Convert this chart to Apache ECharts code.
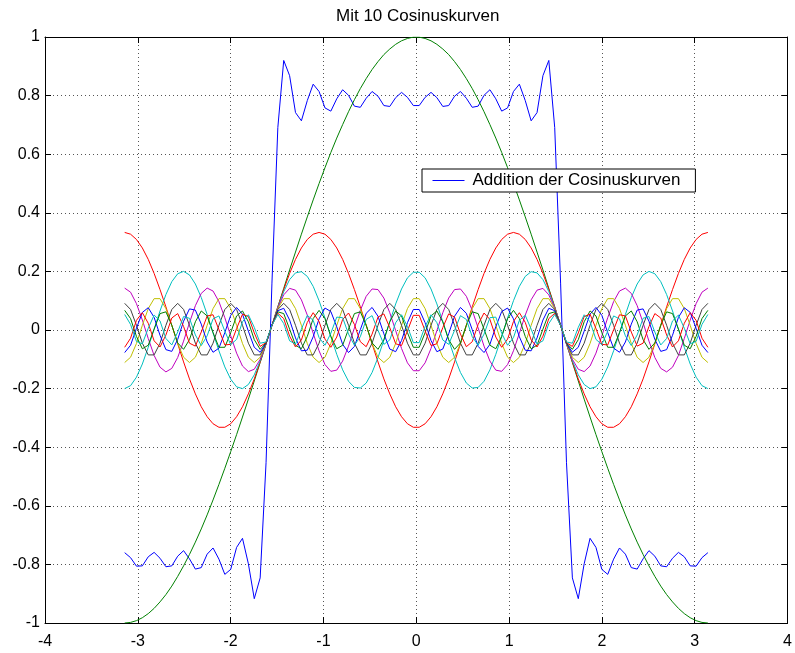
<!DOCTYPE html>
<html>
<head>
<meta charset="utf-8">
<script src="https://cdn.jsdelivr.net/npm/echarts@6/dist/echarts.min.js"></script>
<style>
html,body{margin:0;padding:0;background:#fff;}
#chart{width:795px;height:653px;}
</style>
</head>
<body>
<div id="chart"></div>
<script>
// sample positions (x in radians)
const xs = [-3.1416,-3.0781,-3.0147,-2.9512,-2.8877,-2.8243,-2.7608,-2.6973,-2.6339,-2.5704,-2.5069,-2.4435,-2.3800,-2.3165,-2.2531,-2.1896,-2.1261,-2.0627,-1.9992,-1.9358,-1.8723,-1.8088,-1.7454,-1.6819,-1.6184,-1.5550,-1.4915,-1.4280,-1.3646,-1.3011,-1.2376,-1.1742,-1.1107,-1.0472,-0.9837,-0.9203,-0.8568,-0.7933,-0.7299,-0.6664,-0.6029,-0.5395,-0.4760,-0.4125,-0.3491,-0.2856,-0.2221,-0.1587,-0.0952,-0.0317,
0.0317,0.0952,0.1587,0.2221,0.2856,0.3491,0.4125,0.4760,0.5395,0.6029,0.6664,0.7299,0.7933,0.8568,0.9203,0.9837,1.0472,1.1107,1.1742,1.2376,1.3011,1.3646,1.4280,1.4915,1.5550,1.6184,1.6819,1.7454,1.8088,1.8723,1.9358,1.9992,2.0627,2.1261,2.1896,2.2531,2.3165,2.3800,2.4435,2.5069,2.5704,2.6339,2.6973,2.7608,2.8243,2.8877,2.9512,3.0147,3.0781,3.1416];

// Addition der Cosinuskurven (sum)
const sumCurve = [-0.760,-0.777,-0.806,-0.805,-0.774,-0.759,-0.779,-0.808,-0.805,-0.772,-0.753,-0.781,-0.816,-0.811,-0.765,-0.744,-0.782,-0.834,-0.817,-0.742,-0.711,-0.798,-0.917,-0.846,-0.453,0.160,0.691,0.920,0.868,0.742,0.714,0.783,0.839,0.814,0.758,0.747,0.789,0.820,0.801,0.764,0.760,0.791,0.814,0.798,0.766,0.763,0.793,0.811,0.794,0.766,
0.766,0.794,0.811,0.793,0.763,0.766,0.798,0.814,0.791,0.760,0.764,0.801,0.820,0.789,0.747,0.758,0.814,0.839,0.783,0.714,0.742,0.868,0.920,0.691,0.160,-0.453,-0.846,-0.917,-0.798,-0.711,-0.742,-0.817,-0.834,-0.782,-0.744,-0.765,-0.811,-0.816,-0.781,-0.753,-0.772,-0.805,-0.808,-0.779,-0.759,-0.774,-0.805,-0.806,-0.777,-0.760];

// individual cosine curves
const h1 = [-1.000,-0.998,-0.992,-0.982,-0.968,-0.950,-0.928,-0.903,-0.874,-0.841,-0.805,-0.766,-0.724,-0.679,-0.631,-0.580,-0.527,-0.472,-0.415,-0.357,-0.297,-0.236,-0.174,-0.111,-0.048,0.016,0.079,0.142,0.205,0.266,0.327,0.386,0.444,0.500,0.554,0.606,0.655,0.701,0.745,0.786,0.824,0.858,0.889,0.916,0.940,0.959,0.975,0.987,0.995,0.9995,
0.9995,0.995,0.987,0.975,0.959,0.940,0.916,0.889,0.858,0.824,0.786,0.745,0.701,0.655,0.606,0.554,0.500,0.444,0.386,0.327,0.266,0.205,0.142,0.079,0.016,-0.048,-0.111,-0.174,-0.236,-0.297,-0.357,-0.415,-0.472,-0.527,-0.580,-0.631,-0.679,-0.724,-0.766,-0.805,-0.841,-0.874,-0.903,-0.928,-0.950,-0.968,-0.982,-0.992,-0.998,-1.000];

const h3 = [0.333,0.327,0.309,0.280,0.241,0.193,0.138,0.079,0.016,-0.047,-0.109,-0.167,-0.218,-0.262,-0.296,-0.320,-0.332,-0.332,-0.320,-0.296,-0.262,-0.218,-0.167,-0.109,-0.047,0.016,0.079,0.138,0.193,0.241,0.280,0.309,0.327,0.333,0.327,0.309,0.280,0.241,0.193,0.138,0.079,0.016,-0.047,-0.109,-0.167,-0.218,-0.262,-0.296,-0.320,-0.332,
-0.332,-0.320,-0.296,-0.262,-0.218,-0.167,-0.109,-0.047,0.016,0.079,0.138,0.193,0.241,0.280,0.309,0.327,0.333,0.327,0.309,0.280,0.241,0.193,0.138,0.079,0.016,-0.047,-0.109,-0.167,-0.218,-0.262,-0.296,-0.320,-0.332,-0.332,-0.320,-0.296,-0.262,-0.218,-0.167,-0.109,-0.047,0.016,0.079,0.138,0.193,0.241,0.280,0.309,0.327,0.333];

const h5 = [-0.200,-0.190,-0.161,-0.116,-0.059,0.003,0.065,0.121,0.165,0.192,0.200,0.188,0.157,0.111,0.053,-0.010,-0.071,-0.126,-0.168,-0.194,-0.200,-0.186,-0.153,-0.105,-0.047,0.016,0.077,0.131,0.172,0.195,0.199,0.183,0.149,0.100,0.041,-0.022,-0.083,-0.136,-0.175,-0.196,-0.198,-0.181,-0.145,-0.094,-0.035,0.028,0.089,0.140,0.178,0.197,
0.197,0.178,0.140,0.089,0.028,-0.035,-0.094,-0.145,-0.181,-0.198,-0.196,-0.175,-0.136,-0.083,-0.022,0.041,0.100,0.149,0.183,0.199,0.195,0.172,0.131,0.077,0.016,-0.047,-0.105,-0.153,-0.186,-0.200,-0.194,-0.168,-0.126,-0.071,-0.010,0.053,0.111,0.157,0.188,0.200,0.192,0.165,0.121,0.065,0.003,-0.059,-0.116,-0.161,-0.190,-0.200];

const h7 = [0.143,0.129,0.090,0.034,-0.029,-0.087,-0.127,-0.143,-0.131,-0.094,-0.038,0.025,0.083,0.125,0.143,0.133,0.097,0.042,-0.020,-0.079,-0.123,-0.142,-0.134,-0.100,-0.047,0.016,0.075,0.120,0.142,0.136,0.103,0.051,-0.011,-0.071,-0.118,-0.141,-0.137,-0.106,-0.055,0.007,0.067,0.115,0.140,0.138,0.109,0.059,-0.002,-0.063,-0.112,-0.139,
-0.139,-0.112,-0.063,-0.002,0.059,0.109,0.138,0.140,0.115,0.067,0.007,-0.055,-0.106,-0.137,-0.141,-0.118,-0.071,-0.011,0.051,0.103,0.136,0.142,0.120,0.075,0.016,-0.047,-0.100,-0.134,-0.142,-0.123,-0.079,-0.020,0.042,0.097,0.133,0.143,0.125,0.083,0.025,-0.038,-0.094,-0.131,-0.143,-0.127,-0.087,-0.029,0.034,0.090,0.129,0.143];

const h9 = [-0.111,-0.093,-0.046,0.016,0.073,0.107,0.107,0.073,0.016,-0.046,-0.093,-0.111,-0.093,-0.046,0.016,0.073,0.107,0.107,0.073,0.016,-0.046,-0.093,-0.111,-0.093,-0.046,0.016,0.073,0.107,0.107,0.073,0.016,-0.046,-0.093,-0.111,-0.093,-0.046,0.016,0.073,0.107,0.107,0.073,0.016,-0.046,-0.093,-0.111,-0.093,-0.046,0.016,0.073,0.107,
0.107,0.073,0.016,-0.046,-0.093,-0.111,-0.093,-0.046,0.016,0.073,0.107,0.107,0.073,0.016,-0.046,-0.093,-0.111,-0.093,-0.046,0.016,0.073,0.107,0.107,0.073,0.016,-0.046,-0.093,-0.111,-0.093,-0.046,0.016,0.073,0.107,0.107,0.073,0.016,-0.046,-0.093,-0.111,-0.093,-0.046,0.016,0.073,0.107,0.107,0.073,0.016,-0.046,-0.093,-0.111];

const h11 = [0.091,0.070,0.016,-0.045,-0.085,-0.085,-0.045,0.016,0.070,0.091,0.070,0.016,-0.045,-0.085,-0.085,-0.045,0.016,0.070,0.091,0.070,0.016,-0.045,-0.085,-0.085,-0.045,0.016,0.070,0.091,0.070,0.016,-0.045,-0.085,-0.085,-0.045,0.016,0.070,0.091,0.070,0.016,-0.045,-0.085,-0.085,-0.045,0.016,0.070,0.091,0.070,0.016,-0.045,-0.085,
-0.085,-0.045,0.016,0.070,0.091,0.070,0.016,-0.045,-0.085,-0.085,-0.045,0.016,0.070,0.091,0.070,0.016,-0.045,-0.085,-0.085,-0.045,0.016,0.070,0.091,0.070,0.016,-0.045,-0.085,-0.085,-0.045,0.016,0.070,0.091,0.070,0.016,-0.045,-0.085,-0.085,-0.045,0.016,0.070,0.091,0.070,0.016,-0.045,-0.085,-0.085,-0.045,0.016,0.070,0.091];

const h13 = [-0.077,-0.052,0.006,0.060,0.076,0.043,-0.018,-0.067,-0.073,-0.032,0.030,0.072,0.068,0.020,-0.041,-0.076,-0.062,-0.009,0.050,0.077,0.054,-0.004,-0.059,-0.076,-0.045,0.016,0.066,0.074,0.034,-0.027,-0.071,-0.069,-0.023,0.038,0.075,0.063,0.011,-0.049,-0.077,-0.056,0.001,0.057,0.077,0.047,-0.013,-0.065,-0.074,-0.036,0.025,0.070,
0.070,0.025,-0.036,-0.074,-0.065,-0.013,0.047,0.077,0.057,0.001,-0.056,-0.077,-0.049,0.011,0.063,0.075,0.038,-0.023,-0.069,-0.071,-0.027,0.034,0.074,0.066,0.016,-0.045,-0.076,-0.059,-0.004,0.054,0.077,0.050,-0.009,-0.062,-0.076,-0.041,0.020,0.068,0.072,0.030,-0.032,-0.073,-0.067,-0.018,0.043,0.076,0.060,0.006,-0.052,-0.077];

const h15 = [0.067,0.039,-0.022,-0.064,-0.052,0.003,0.056,0.062,0.016,-0.044,-0.066,-0.033,0.028,0.065,0.048,-0.009,-0.059,-0.059,-0.009,0.048,0.065,0.028,-0.033,-0.066,-0.044,0.016,0.062,0.056,0.003,-0.052,-0.064,-0.022,0.039,0.067,0.039,-0.022,-0.064,-0.052,0.003,0.056,0.062,0.016,-0.044,-0.066,-0.033,0.028,0.065,0.048,-0.009,-0.059,
-0.059,-0.009,0.048,0.065,0.028,-0.033,-0.066,-0.044,0.016,0.062,0.056,0.003,-0.052,-0.064,-0.022,0.039,0.067,0.039,-0.022,-0.064,-0.052,0.003,0.056,0.062,0.016,-0.044,-0.066,-0.033,0.028,0.065,0.048,-0.009,-0.059,-0.059,-0.009,0.048,0.065,0.028,-0.033,-0.066,-0.044,0.016,0.062,0.056,0.003,-0.052,-0.064,-0.022,0.039,0.067];

const h17 = [-0.059,-0.028,0.033,0.059,0.023,-0.037,-0.058,-0.017,0.041,0.056,0.012,-0.045,-0.055,-0.007,0.048,0.052,0.001,-0.051,-0.049,0.005,0.054,0.046,-0.010,-0.056,-0.043,0.016,0.057,0.039,-0.021,-0.058,-0.034,0.026,0.059,0.029,-0.031,-0.059,-0.024,0.036,0.058,0.019,-0.040,-0.057,-0.014,0.044,0.055,0.008,-0.047,-0.053,-0.003,0.050,
0.050,-0.003,-0.053,-0.047,0.008,0.055,0.044,-0.014,-0.057,-0.040,0.019,0.058,0.036,-0.024,-0.059,-0.031,0.029,0.059,0.026,-0.034,-0.058,-0.021,0.039,0.057,0.016,-0.043,-0.056,-0.010,0.046,0.054,0.005,-0.049,-0.051,0.001,0.052,0.048,-0.007,-0.055,-0.045,0.012,0.056,0.041,-0.017,-0.058,-0.037,0.023,0.059,0.033,-0.028,-0.059];

const h19 = [0.053,0.019,-0.039,-0.047,0.006,0.051,0.031,-0.029,-0.051,-0.007,0.046,0.040,-0.017,-0.053,-0.020,0.038,0.048,-0.004,-0.050,-0.032,0.028,0.052,0.009,-0.045,-0.041,0.016,0.053,0.022,-0.037,-0.048,0.003,0.050,0.033,-0.026,-0.052,-0.011,0.044,0.042,-0.014,-0.052,-0.023,0.036,0.049,-0.001,-0.049,-0.034,0.025,0.052,0.012,-0.043,
-0.043,0.012,0.052,0.025,-0.034,-0.049,-0.001,0.049,0.036,-0.023,-0.052,-0.014,0.042,0.044,-0.011,-0.052,-0.026,0.033,0.050,0.003,-0.048,-0.037,0.022,0.053,0.016,-0.041,-0.045,0.009,0.052,0.028,-0.032,-0.050,-0.004,0.048,0.038,-0.020,-0.053,-0.017,0.040,0.046,-0.007,-0.051,-0.029,0.031,0.051,0.006,-0.047,-0.039,0.019,0.053];

const xTicks = [-4,-3,-2,-1,0,1,2,3,4];
const yTicks = [-1,-0.8,-0.6,-0.4,-0.2,0,0.2,0.4,0.6,0.8,1];

const titleText = 'Mit 10 Cosinuskurven';
const legendText = 'Addition der Cosinuskurven';

const components = [
  {data: h1,  color: '#008000'},
  {data: h3,  color: '#ff0000'},
  {data: h5,  color: '#00bfbf'},
  {data: h7,  color: '#bf00bf'},
  {data: h9,  color: '#bfbf00'},
  {data: h11, color: '#404040'},
  {data: h13, color: '#0000ff'},
  {data: h15, color: '#008000'},
  {data: h17, color: '#ff0000'},
  {data: h19, color: '#00bfbf'}
];

const FONT = 'Liberation Sans, Arial, Helvetica, sans-serif';
const pairs = arr => xs.map((x, i) => [x, arr[i]]);

const series = [{
  name: legendText,
  type: 'line',
  data: pairs(sumCurve),
  symbol: 'none',
  lineStyle: {color: '#0000ff', width: 1},
  itemStyle: {color: '#0000ff'},
  animation: false
}];
components.forEach((c, i) => {
  series.push({
    name: 'c' + i,
    type: 'line',
    data: pairs(c.data),
    symbol: 'none',
    lineStyle: {color: c.color, width: 1},
    itemStyle: {color: c.color},
    animation: false
  });
});

const fmt = v => String(Math.round(v * 10) / 10);

const chart = echarts.init(document.getElementById('chart'), null, {renderer: 'canvas'});
chart.setOption({
  backgroundColor: '#ffffff',
  animation: false,
  title: {
    text: titleText,
    left: 336,
    top: 8,
    padding: 0,
    textStyle: {fontFamily: FONT, fontSize: 17, fontWeight: 'normal', color: '#000'}
  },
  legend: {
    data: [legendText],
    left: 422,
    top: 169,
    orient: 'horizontal',
    padding: [3, 15, 3, 10],
    itemWidth: 32,
    itemHeight: 14,
    backgroundColor: '#fff',
    borderColor: '#000',
    borderWidth: 1,
    borderRadius: 0,
    selectedMode: false,
    itemStyle: {opacity: 0, borderWidth: 0},
    lineStyle: {color: '#0000ff', width: 1, opacity: 1},
    textStyle: {fontFamily: FONT, fontSize: 17, color: '#000', padding: [0, 0, 0, 3]}
  },
  grid: {left: 45, right: 6, top: 37, bottom: 30, containLabel: false},
  xAxis: [{
    type: 'value', min: -4, max: 4, interval: 1, position: 'bottom',
    axisLine: {show: true, onZero: false, lineStyle: {color: '#000', width: 1}},
    axisTick: {show: true, inside: true, length: 6, lineStyle: {color: '#000'}},
    axisLabel: {margin: 11, fontFamily: FONT, fontSize: 16, color: '#000', formatter: fmt},
    splitLine: {show: true, lineStyle: {color: '#555', type: [1, 3], width: 1}}
  }, {
    type: 'value', min: -4, max: 4, interval: 1, position: 'top',
    axisLine: {show: true, onZero: false, lineStyle: {color: '#000', width: 1}},
    axisTick: {show: true, inside: true, length: 6, lineStyle: {color: '#000'}},
    axisLabel: {show: false},
    splitLine: {show: false}
  }],
  yAxis: [{
    type: 'value', min: -1, max: 1, interval: 0.2, position: 'left',
    axisLine: {show: true, onZero: false, lineStyle: {color: '#000', width: 1}},
    axisTick: {show: true, inside: true, length: 6, lineStyle: {color: '#000'}},
    axisLabel: {margin: 5, fontFamily: FONT, fontSize: 16, color: '#000', formatter: fmt},
    splitLine: {show: true, lineStyle: {color: '#555', type: [1, 3], width: 1}}
  }, {
    type: 'value', min: -1, max: 1, interval: 0.2, position: 'right',
    axisLine: {show: true, onZero: false, lineStyle: {color: '#000', width: 1}},
    axisTick: {show: true, inside: true, length: 6, lineStyle: {color: '#000'}},
    axisLabel: {show: false},
    splitLine: {show: false}
  }],
  series: series
});
</script>
</body>
</html>
